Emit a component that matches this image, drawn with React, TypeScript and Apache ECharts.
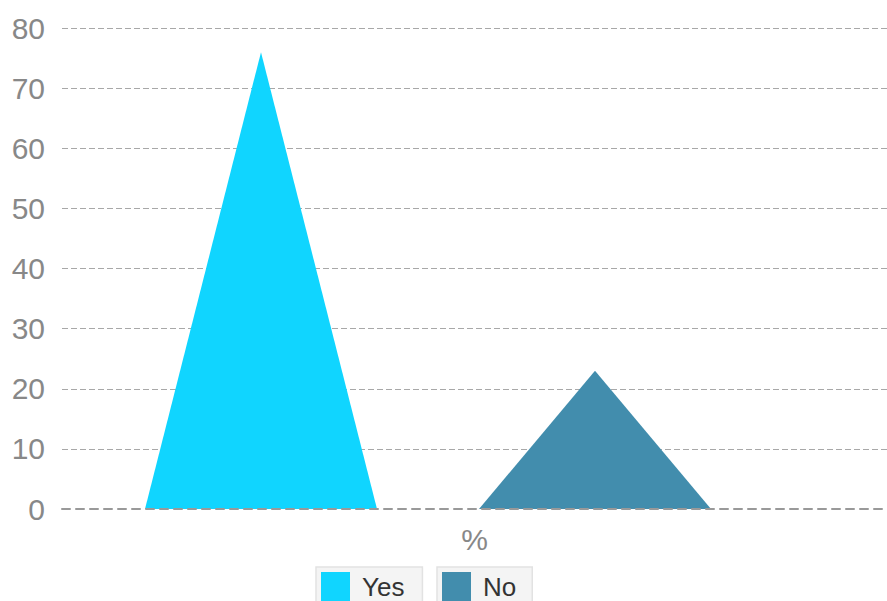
import React, { useEffect, useRef } from "react";
import * as echarts from "echarts";

const categories = ["%"];
const seriesNames = ["Yes", "No"];
const yesValues = [76];
const noValues = [23];
const colors = ["#10d5ff", "#428dad"];

export default function App() {
  const ref = useRef<HTMLDivElement>(null);
  useEffect(() => {
    if (!ref.current) return;
    const chart = echarts.init(ref.current, undefined, { renderer: "svg" });
    const legendBase = {
      orient: "horizontal",
      top: 567,
      icon: "rect",
      itemWidth: 29,
      itemHeight: 30,
      backgroundColor: "#f4f4f4",
      borderColor: "#e2e2e2",
      borderWidth: 1.5,
      borderRadius: 0,
      padding: [5, 18, 5, 5],
      textStyle: {
        fontFamily: "Liberation Sans, Arial, sans-serif",
        fontSize: 26,
        color: "#333",
        padding: [0, 0, 0, 7],
      },
      selectedMode: false,
    };
    chart.setOption({
      animation: false,
      grid: { left: 62, right: 0, top: 28, bottom: 92 },
      legend: [
        { ...legendBase, left: 316, data: [seriesNames[0]] },
        { ...legendBase, left: 437, padding: [5, 16, 5, 5], data: [seriesNames[1]] },
      ],
      xAxis: {
        type: "category",
        data: categories,
        z: 5,
        axisLine: { lineStyle: { color: "#999999", type: [8, 6], width: 2 } },
        axisTick: { show: false },
        axisLabel: {
          color: "#888888",
          fontSize: 30,
          fontFamily: "Liberation Sans, Arial, sans-serif",
          margin: 15,
        },
      },
      yAxis: {
        type: "value",
        min: 0,
        max: 80,
        interval: 10,
        axisLine: { show: false },
        axisTick: { show: false },
        axisLabel: {
          color: "#888888",
          fontSize: 30,
          fontFamily: "Liberation Sans, Arial, sans-serif",
          margin: 17,
        },
        splitLine: {
          showMinLine: false,
          lineStyle: { color: "#a8a8a8", type: [6, 3], width: 1 },
        },
      },
      series: [
        {
          name: seriesNames[0],
          type: "pictorialBar",
          data: yesValues,
          symbol: "triangle",
          symbolSize: [232, "100%"],
          symbolPosition: "start",
          symbolOffset: [-213.5, 0],
          barWidth: 232,
          barGap: "-100%",
          itemStyle: { color: colors[0] },
          z: 1,
        },
        {
          name: seriesNames[1],
          type: "pictorialBar",
          data: noValues,
          symbol: "triangle",
          symbolSize: [232, "100%"],
          symbolPosition: "start",
          symbolOffset: [120.5, 0],
          barWidth: 232,
          barGap: "-100%",
          itemStyle: { color: colors[1] },
          z: 1,
        },
      ],
    });
    return () => chart.dispose();
  }, []);
  return (
    <div
      ref={ref}
      style={{ position: "absolute", left: 0, top: 0, width: 887, height: 601 }}
    />
  );
}
